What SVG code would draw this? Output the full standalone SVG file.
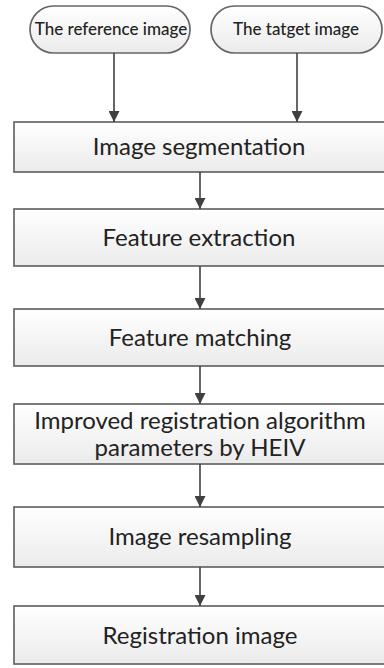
<svg xmlns="http://www.w3.org/2000/svg" width="384" height="668" viewBox="0 0 384 668">
<defs>
<linearGradient id="g" x1="0" y1="0" x2="0" y2="1">
<stop offset="0" stop-color="#ffffff"/>
<stop offset="1" stop-color="#ebebeb"/>
</linearGradient>
<marker id="ah" viewBox="0 0 10 10" refX="10" refY="5" markerWidth="11" markerHeight="11" markerUnits="userSpaceOnUse" orient="auto">
<path d="M0,0 L10,5 L0,10 z" fill="#404040"/>
</marker>
</defs>
<style>
.box{fill:url(#g);stroke:#666;stroke-width:1.7}
.t{font-family:Lato,"Open Sans",sans-serif;fill:#222;text-anchor:middle}
.big{font-size:24px}
.sm{font-size:17px;font-weight:500}
.c{stroke:#404040;stroke-width:1.6;fill:none;marker-end:url(#ah)}
</style>
<rect width="384" height="668" fill="#ffffff"/>
<g id="n-ref"><rect class="box" x="30" y="6" width="160" height="47" rx="23.5"/><text class="t sm" x="111" y="35">The reference image</text></g>
<g id="n-tgt"><rect class="box" x="211" y="6" width="171" height="47" rx="23.5"/><text class="t sm" x="296" y="35">The tatget image</text></g>
<g id="n-seg"><rect class="box" x="14" y="122" width="374" height="50"/><text class="t big" x="199" y="155">Image segmentation</text></g>
<g id="n-ext"><rect class="box" x="14" y="209" width="374" height="57"/><text class="t big" x="199" y="246">Feature extraction</text></g>
<g id="n-mat"><rect class="box" x="14" y="309" width="374" height="57"/><text class="t big" x="200" y="346">Feature matching</text></g>
<g id="n-heiv"><rect class="box" x="14" y="404" width="374" height="60"/><text class="t big" x="200" y="429">Improved registration algorithm</text><text class="t big" x="200" y="456">parameters by HEIV</text></g>
<g id="n-res"><rect class="box" x="14" y="507" width="374" height="60"/><text class="t big" x="200" y="545">Image resampling</text></g>
<g id="n-out"><rect class="box" x="14" y="606" width="374" height="58"/><text class="t big" x="200" y="644">Registration image</text></g>
<g id="connectors">
<line class="c" x1="114" y1="53" x2="114" y2="122"/>
<line class="c" x1="297" y1="53" x2="297" y2="122"/>
<line class="c" x1="200" y1="172" x2="200" y2="209"/>
<line class="c" x1="200" y1="266" x2="200" y2="309"/>
<line class="c" x1="200" y1="366" x2="200" y2="404"/>
<line class="c" x1="200" y1="464" x2="200" y2="507"/>
<line class="c" x1="200" y1="567" x2="200" y2="606"/>
</g>
</svg>
